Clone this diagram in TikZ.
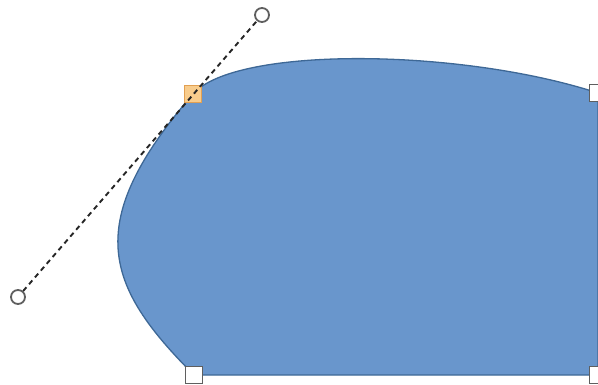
\documentclass[tikz,border=0pt]{standalone}
\usepackage{tikz}
\usetikzlibrary{positioning, calc}

\definecolor{shapefill}{RGB}{105,150,204}
\definecolor{shapeedge}{RGB}{62,104,150}
\definecolor{selfill}{RGB}{248,204,140}
\definecolor{seledge}{RGB}{226,160,82}
\definecolor{handlegray}{RGB}{95,95,95}

\begin{document}
\begin{tikzpicture}[x=1pt, y=-1pt,
    vertex/.style={rectangle, draw=handlegray, line width=1.8pt, fill=white, minimum size=17pt, inner sep=0pt},
    selvertex/.style={rectangle, draw=seledge, line width=1.8pt, fill=selfill, minimum size=17pt, inner sep=0pt},
    ctrl/.style={circle, draw=handlegray, line width=1.8pt, fill=white, minimum size=14pt, inner sep=0pt},
    tangent/.style={dashed, dash pattern=on 5pt off 4pt, line width=1.9pt, black!85}]
    \useasboundingbox (0,0) rectangle (598,385);

    % Corner points of the shape
    \coordinate (p1) at (193, 94);
    \coordinate (p2) at (598, 93);
    \coordinate (p3) at (598, 375);
    \coordinate (p4) at (194, 375);

    % Shape
    \draw[fill=shapefill, draw=shapeedge, line width=1.3pt]
        (p1) .. controls (235, 46) and (460, 48) .. (p2)
        -- (p3) -- (p4)
        .. controls (104, 285) and (82, 223) .. (p1) -- cycle;

    % Edit points
    \node[selvertex] (a1) at (p1) {};
    \node[vertex] (a2) at (p2) {};
    \node[vertex] (a3) at (p3) {};
    \node[vertex] (a4) at (p4) {};

    % Tangent handles of the selected point
    \node[ctrl] (h1) at (262, 15) {};
    \node[ctrl] (h2) at (18, 297) {};
    \draw[tangent] (h2) -- (h1);
\end{tikzpicture}
\end{document}
